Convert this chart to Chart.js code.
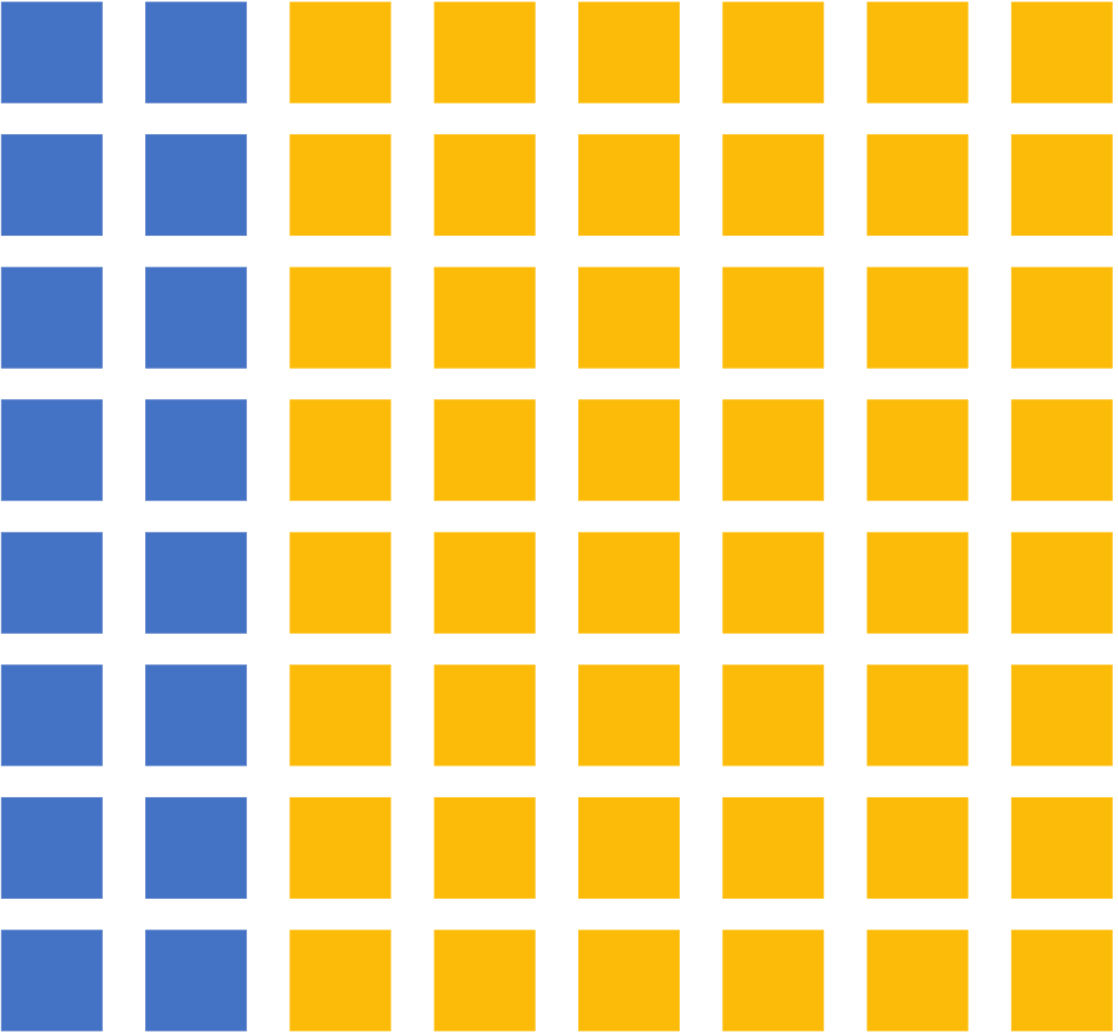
<!DOCTYPE html>
<html>
<head>
<meta charset="utf-8">
<script src="https://cdn.jsdelivr.net/npm/chart.js@4/dist/chart.umd.min.js"></script>
<style>
  html, body { margin: 0; padding: 0; background: #ffffff; }
  #wrap { width: 1118px; height: 1035px; position: relative; }
</style>
</head>
<body>
<div id="wrap"><canvas id="c"></canvas></div>
<script>
// Waffle chart data
const categories = ['Share', 'Remainder'];
const values = [16, 48];            // cells per category (of 64)
const gridColumns = 8;
const gridRows = 8;
const colors = ['#4472C4', '#FDBB09'];
const borderColors = ['#7F9DD6', '#FFD35A'];

// Build cell points column by column (top to bottom), filling categories in order
const datasets = categories.map((name, i) => ({
  label: name,
  data: [],
  backgroundColor: colors[i],
  borderColor: borderColors[i],
  borderWidth: 1,
  pointStyle: 'rect',
  pointRadius: 71.4,
  pointHoverRadius: 71.4,
  clip: false
}));
let idx = 0;
categories.forEach((name, ci) => {
  for (let k = 0; k < values[ci]; k++) {
    const col = Math.floor(idx / gridRows);
    const row = idx % gridRows;
    datasets[ci].data.push({ x: col, y: row });
    idx++;
  }
});

new Chart(document.getElementById('c'), {
  type: 'scatter',
  data: { datasets },
  options: {
    responsive: true,
    maintainAspectRatio: false,
    animation: false,
    layout: { padding: 0, autoPadding: false },
    plugins: { legend: { display: false }, tooltip: { enabled: false } },
    scales: {
      x: { type: 'linear', display: false, min: -0.359, max: 7.389 },
      y: { type: 'linear', display: false, reverse: true, min: -0.396, max: 7.411 }
    }
  }
});
</script>
</body>
</html>
